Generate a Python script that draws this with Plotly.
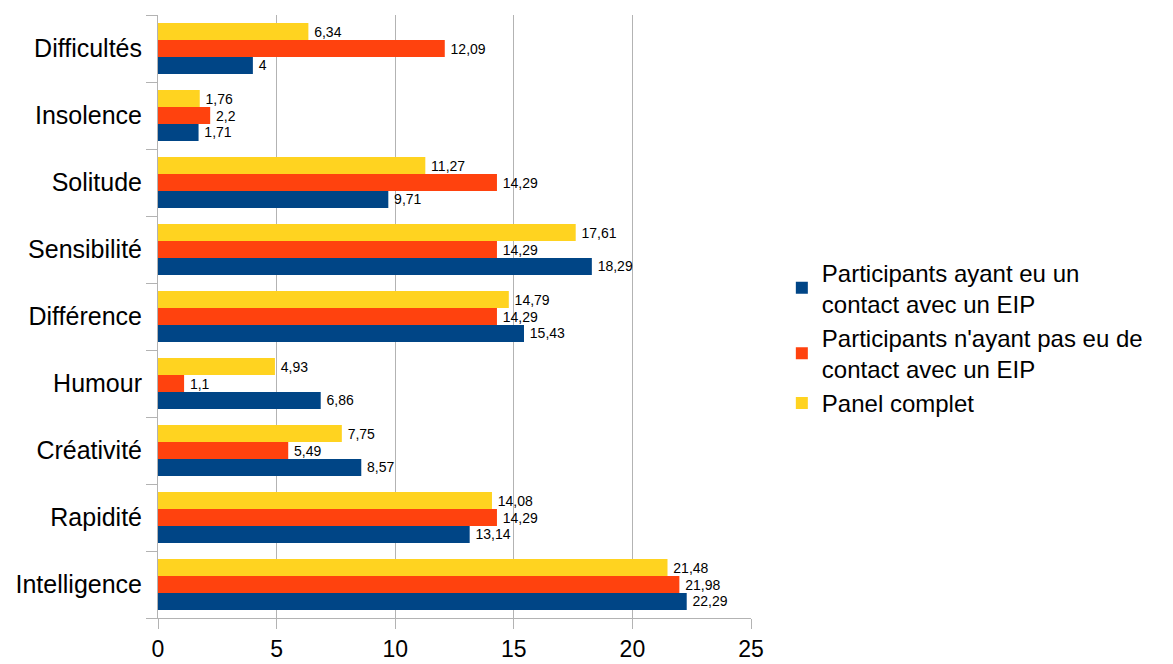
import plotly.graph_objects as go

# Categories listed bottom-to-top along the vertical axis
categories = ["Intelligence", "Rapidité", "Créativité", "Humour", "Différence",
              "Sensibilité", "Solitude", "Insolence", "Difficultés"]

avec_contact = [22.29, 13.14, 8.57, 6.86, 15.43, 18.29, 9.71, 1.71, 4]
sans_contact = [21.98, 14.29, 5.49, 1.1, 14.29, 14.29, 14.29, 2.2, 12.09]
panel_complet = [21.48, 14.08, 7.75, 4.93, 14.79, 17.61, 11.27, 1.76, 6.34]

series_names = [
    "Participants ayant eu un<br>contact avec un EIP",
    "Participants n'ayant pas eu de<br>contact avec un EIP",
    "Panel complet",
]
series_values = [avec_contact, sans_contact, panel_complet]
series_colors = ["#004586", "#ff420e", "#ffd320"]

FONT = "Liberation Sans, Arial, sans-serif"
GRID = "#b3b3b3"


def fr(v):
    # French decimal notation, no trailing zeros
    return ("%g" % v).replace(".", ",")


fig = go.Figure()
for name, vals, col in zip(series_names, series_values, series_colors):
    fig.add_trace(go.Bar(
        y=categories, x=vals, orientation="h", name=name,
        marker=dict(color=col, line=dict(width=0)),
        text=["\u2009" + fr(v) for v in vals], textposition="outside",
        textfont=dict(family=FONT, size=14, color="#000000"),
        constraintext="none", cliponaxis=False,
    ))

fig.update_layout(
    width=1173, height=664,
    margin=dict(l=158, r=422, t=15, b=46),
    paper_bgcolor="white", plot_bgcolor="white",
    barmode="group", bargap=0.24, bargroupgap=0,
    font=dict(family=FONT, color="#000000"),
    xaxis=dict(
        range=[0, 25], dtick=5, showgrid=True, gridcolor=GRID, gridwidth=1,
        showline=True, linecolor=GRID, linewidth=1, zeroline=False,
        ticks="outside", ticklen=10, tickcolor=GRID, automargin=False,
        tickfont=dict(size=23, family=FONT), ticklabelstandoff=0,
    ),
    yaxis=dict(
        categoryorder="array", categoryarray=categories,
        showgrid=False, showline=True, linecolor=GRID, linewidth=1,
        ticks="outside", tickson="boundaries", ticklen=11, tickcolor=GRID,
        tickfont=dict(size=25, family=FONT), ticklabelstandoff=10,
        automargin=False,
    ),
    legend=dict(
        x=1.052, xanchor="left", y=0.465, yanchor="middle",
        font=dict(size=24, family=FONT), itemwidth=30,
        traceorder="normal", tracegroupgap=9,
    ),
)

fig.write_html("out.html")
